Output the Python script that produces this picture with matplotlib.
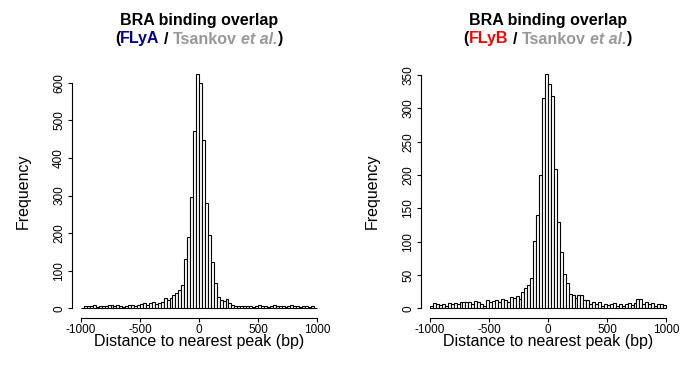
import numpy as np
import matplotlib
matplotlib.use('Agg')
import matplotlib.pyplot as plt

FONT = 'Liberation Sans'
plt.rcParams['font.family'] = FONT

# bins of 25 bp from -1000 to 1000
edges = np.arange(-1000, 1001, 25)

counts_a = [2, 5, 7, 6, 9, 4, 5, 5, 7, 8,
            10, 6, 10, 7, 3, 7, 9, 8, 5, 10,
            12, 14, 10, 13, 18, 12, 15, 16, 27, 22,
            28, 35, 40, 50, 62, 131, 190, 295, 472, 622,
            600, 447, 279, 196, 122, 68, 29, 22, 20, 24,
            13, 8, 6, 6, 5, 7, 5, 6, 4, 7,
            8, 5, 7, 4, 6, 9, 6, 5, 7, 4,
            6, 8, 5, 6, 4, 7, 5, 3, 6, 2]

counts_b = [3, 8, 7, 5, 7, 4, 8, 7, 8, 6,
            9, 10, 9, 10, 7, 11, 10, 7, 4, 12,
            9, 11, 13, 10, 14, 13, 9, 17, 15, 18,
            14, 24, 30, 35, 45, 101, 140, 200, 316, 351,
            336, 318, 209, 129, 84, 51, 38, 21, 20, 16,
            20, 20, 12, 12, 7, 10, 6, 9, 4, 7,
            5, 6, 8, 4, 6, 4, 6, 8, 5, 8,
            14, 14, 6, 9, 7, 8, 4, 6, 6, 5]

yticks_a = np.arange(0, 601, 100)
yticks_b = np.arange(0, 351, 50)
xticks = [-1000, -500, 0, 500, 1000]

title1 = 'BRA binding overlap'
parts_a = [('(', 'black', 'normal', 0), ('FLyA', '#00008B', 'normal', 1),
           ('/', 'black', 'normal', 1), ('Tsankov', '#999999', 'normal', 1),
           ('et al.', '#999999', 'italic', 0), (')', 'black', 'normal', 0)]
parts_b = [('(', 'black', 'normal', 0), ('FLyB', '#FF0000', 'normal', 1),
           ('/', 'black', 'normal', 1), ('Tsankov', '#999999', 'normal', 1),
           ('et al.', '#999999', 'italic', 0), (')', 'black', 'normal', 0)]

W, H = 682, 377
fig = plt.figure(figsize=(W / 100, H / 100), dpi=100)
ax1 = fig.add_axes([71.6 / W, 1 - 317.7 / H, 254.8 / W, 252.6 / H])
ax2 = fig.add_axes([420.6 / W, 1 - 317.7 / H, 254.8 / W, 252.6 / H])


def draw_hist(ax, counts, yticks):
    ax.bar(edges[:-1], counts, width=25, align='edge', facecolor='white',
           edgecolor='black', linewidth=0.8)
    top = max(counts)
    ax.set_xlim(-1000 - 0.04 * 2000, 1000 + 0.04 * 2000)
    ax.set_ylim(-0.04 * top, 1.04 * top)
    for s in ['top', 'right']:
        ax.spines[s].set_visible(False)
    ax.spines['left'].set_bounds(yticks[0], yticks[-1])
    ax.spines['bottom'].set_bounds(xticks[0], xticks[-1])
    ax.spines['left'].set_linewidth(0.8)
    ax.spines['bottom'].set_linewidth(0.8)
    ax.set_xticks(xticks)
    ax.set_xticklabels(['-1000', '-500', '0', '500', '1000'])
    ax.set_yticks(yticks)
    ax.tick_params(length=3.2, width=0.8, pad=1.2, labelsize=8.5)
    ax.tick_params(axis='y', labelrotation=90, pad=1.5)
    for lbl in ax.get_yticklabels():
        lbl.set_va('center')
    ax.set_xlabel('Distance to nearest peak (bp)', fontsize=11.5)
    ax.set_ylabel('Frequency', fontsize=11.5)
    ax.xaxis.set_label_coords(0.5, -0.066)
    ax.yaxis.set_label_coords(-0.16, 0.5)


draw_hist(ax1, counts_a, yticks_a)
draw_hist(ax2, counts_b, yticks_b)

r = fig.canvas.get_renderer()


def text_width(s, fs, style='normal'):
    t = fig.text(0, 0, s, fontsize=fs, fontweight='bold', fontstyle=style)
    w = t.get_window_extent(r).width
    t.remove()
    return w


def title(ax, parts, fs=11.5):
    b = ax.get_position()
    cx = (b.x0 + b.x1) / 2
    fig.text(cx, 1 - 20 / H, title1, fontsize=fs, fontweight='bold',
             ha='center', va='center')
    sp = text_width('a a', fs) - text_width('aa', fs)
    items = []
    total = 0
    for s, c, st, gap in parts:
        t = fig.text(0, 1 - 39 / H, s, color=c, fontsize=fs, fontweight='bold',
                     fontstyle=st, ha='left', va='center')
        w = t.get_window_extent(r).width
        items.append((t, w, gap))
        total += w + gap * sp
    x = cx * W - total / 2
    for t, w, gap in items:
        t.set_x(x / W)
        x += w + gap * sp


title(ax1, parts_a)
title(ax2, parts_b)

fig.savefig('out.png', dpi=100)
